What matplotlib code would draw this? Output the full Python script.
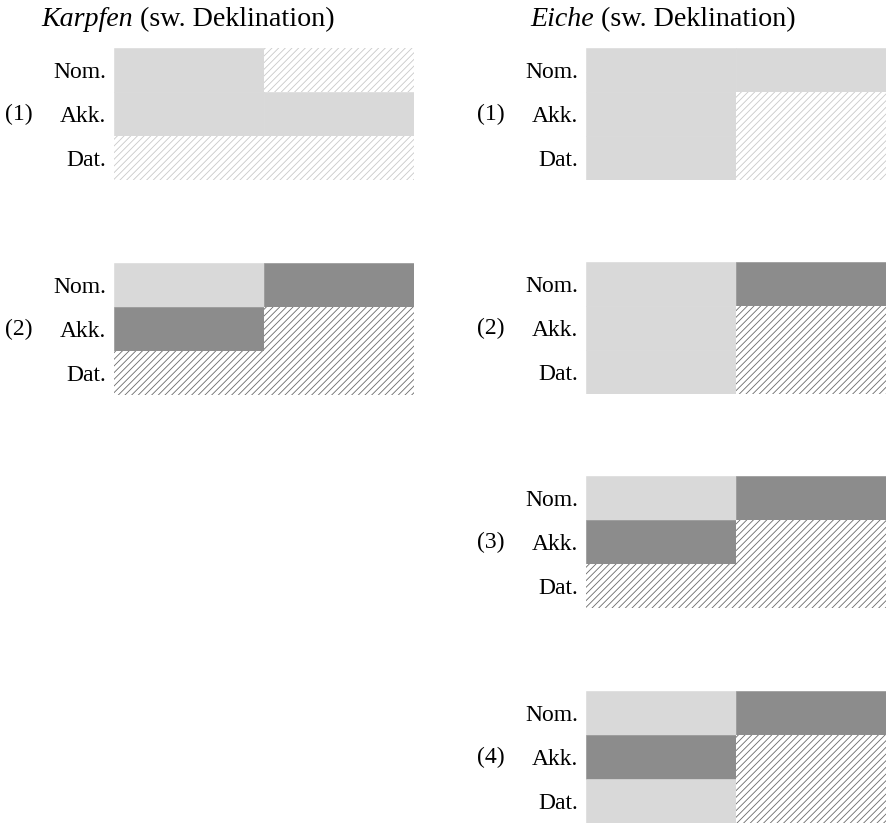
import matplotlib.pyplot as plt

plt.rcParams["font.family"] = ["Liberation Serif", "DejaVu Serif"]
plt.rcParams["hatch.linewidth"] = 0.6

# ---- data -------------------------------------------------------------
cases = ["Nom.", "Akk.", "Dat."]

# fill codes per cell: L = light grey, D = dark grey,
# LH = light hatch, DH = dark hatch  (rows = cases, cols = 2 cells)
karpfen_1 = [["L", "LH"], ["L", "L"], ["LH", "LH"]]
karpfen_2 = [["L", "D"], ["D", "DH"], ["DH", "DH"]]
eiche_1 = [["L", "L"], ["L", "LH"], ["L", "LH"]]
eiche_2 = [["L", "D"], ["L", "DH"], ["L", "DH"]]
eiche_3 = [["L", "D"], ["D", "DH"], ["DH", "DH"]]
eiche_4 = [["L", "D"], ["D", "DH"], ["L", "DH"]]

karpfen_panels = [karpfen_1, karpfen_2]
eiche_panels = [eiche_1, eiche_2, eiche_3, eiche_4]
panel_labels = ["(1)", "(2)", "(3)", "(4)"]

styles = {
    "L": dict(color="#d9d9d9", hatch=None),
    "D": dict(color="#8c8c8c", hatch=None),
    "LH": dict(color="white", hatch="/////", hatchcolor="#c9c9c9"),
    "DH": dict(color="white", hatch="/////", hatchcolor="#6a6a6a"),
}

W, H = 886, 825
fig = plt.figure(figsize=(W / 100, H / 100), dpi=100)


def draw_panel(x0, y_top, grid, label):
    ax = fig.add_axes([x0 / W, 1 - (y_top + 132) / H, 300 / W, 132 / H])
    for r, row in enumerate(grid):
        for c, code in enumerate(row):
            st = styles[code]
            if st["hatch"]:
                ax.barh(r, 1, left=c, height=1, align="edge",
                        facecolor=st["color"], edgecolor=st["hatchcolor"],
                        hatch=st["hatch"], linewidth=0)
            else:
                # same-colour edge hides antialiasing seams between cells
                ax.barh(r, 1, left=c, height=1, align="edge",
                        facecolor=st["color"], edgecolor=st["color"],
                        linewidth=0.4)
    ax.set_xlim(0, 2)
    ax.set_ylim(3, 0)
    ax.set_yticks([0.5, 1.5, 2.5])
    ax.set_yticklabels(cases, fontsize=17)
    ax.tick_params(axis="y", length=0, pad=5.5)
    ax.set_xticks([])
    for s in ax.spines.values():
        s.set_visible(False)
    ax.text(-95 / 300, 1.5, label, transform=ax.get_yaxis_transform(),
            fontsize=17, ha="center", va="center")
    return ax


left_tops = [48, 263]
right_tops = [48, 262, 476, 691]
for grid, top, lab in zip(karpfen_panels, left_tops, panel_labels):
    draw_panel(114, top, grid, lab)
for grid, top, lab in zip(eiche_panels, right_tops, panel_labels):
    draw_panel(586, top, grid, lab)


def title(x_px, noun):
    t = fig.text(x_px / W, 1 - 26 / H, noun, fontsize=20.2, style="italic",
                 ha="left", va="baseline")
    fig.canvas.draw()
    bb = t.get_window_extent()
    fig.text(bb.x1 / W, 1 - 26 / H, " (sw. Deklination)", fontsize=20.2,
             ha="left", va="baseline")


title(41, "Karpfen")
title(530, "Eiche")

fig.savefig("out.png", dpi=100)
